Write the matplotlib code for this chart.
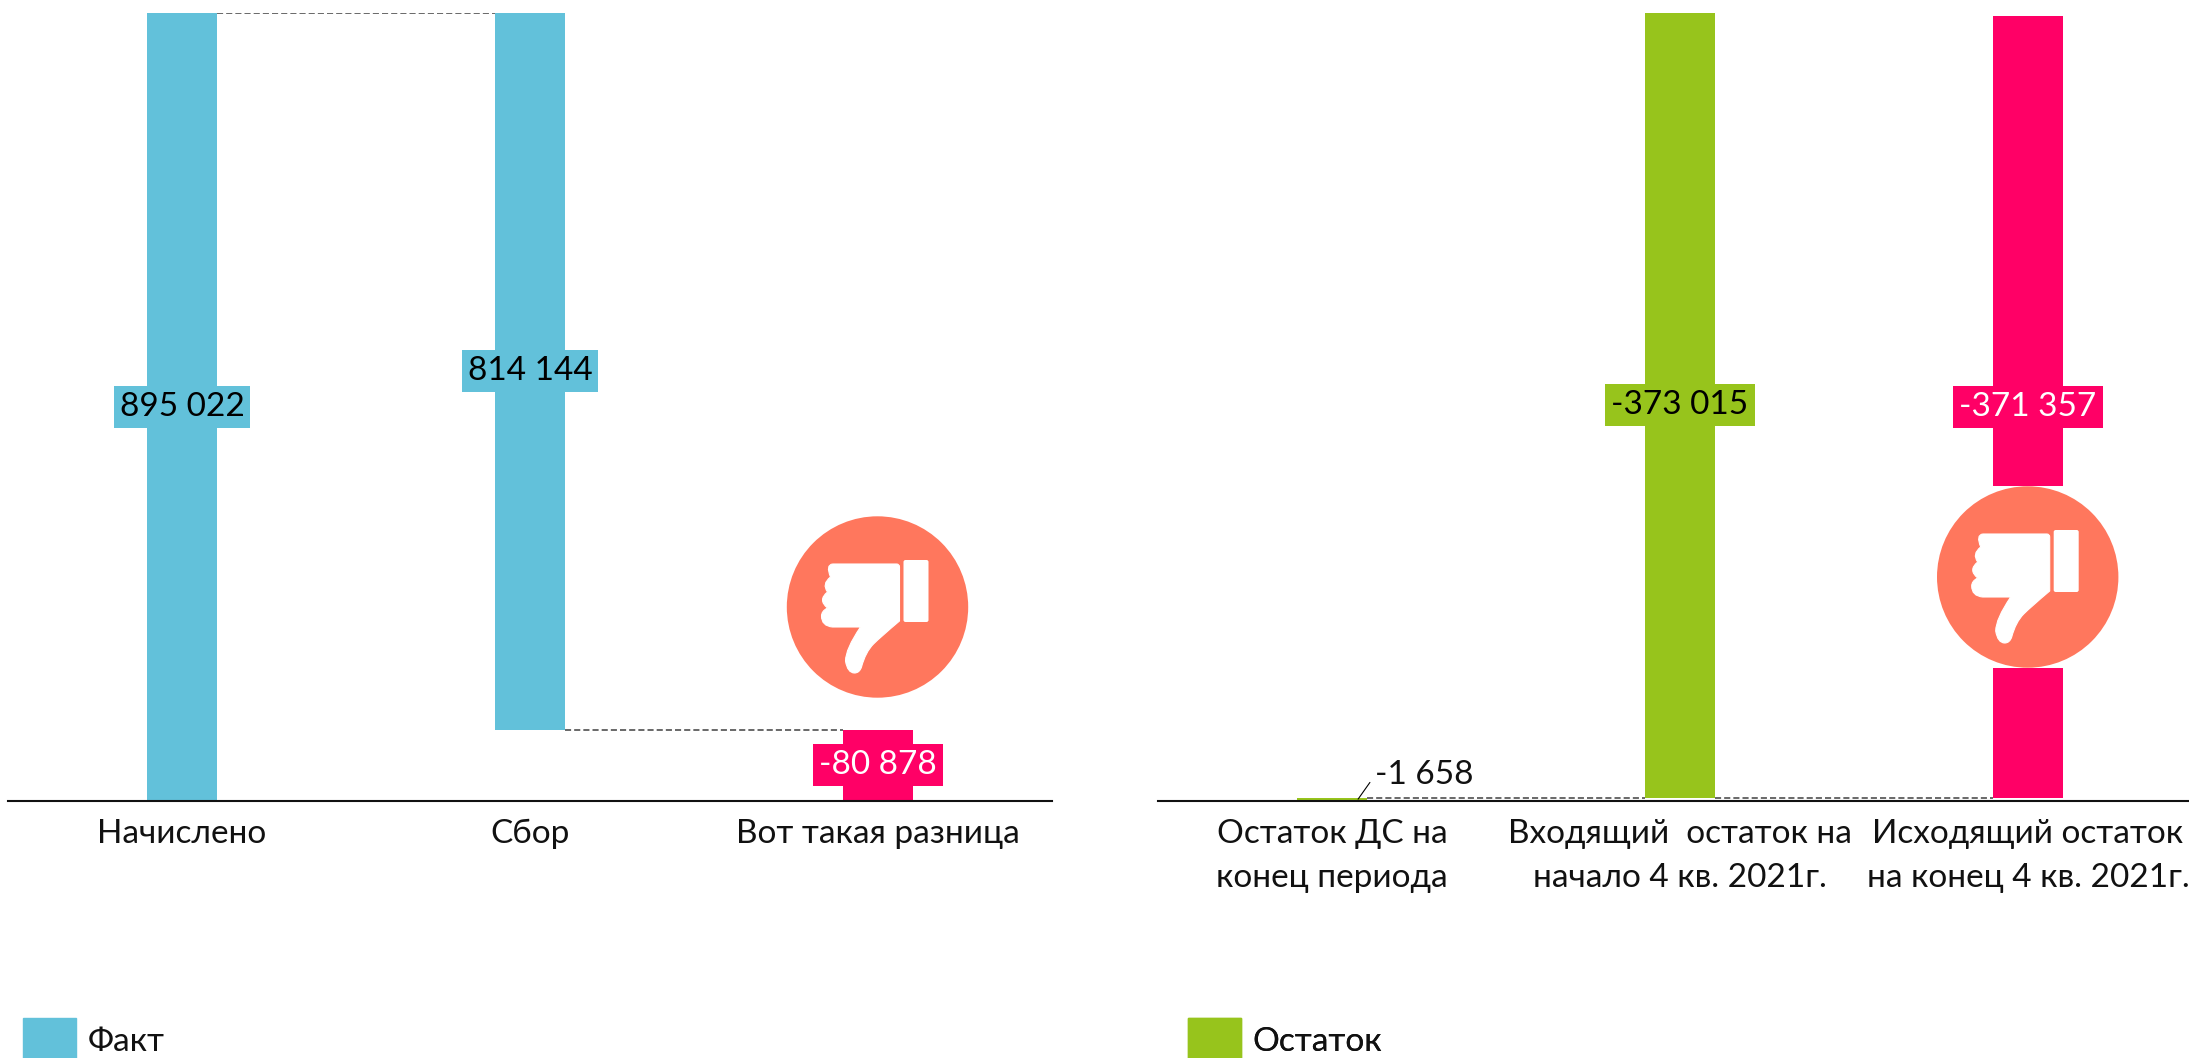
import matplotlib
matplotlib.use('Agg')
import matplotlib.pyplot as plt
from matplotlib.patches import Patch, Circle, Rectangle, PathPatch, FancyBboxPatch
from matplotlib.path import Path

plt.rcParams['font.family'] = ['Lato', 'Open Sans', 'DejaVu Sans']

# data
fact_labels = ['Начислено', 'Сбор', 'Вот такая разница']
fact_bottoms = [0, 80878, 0]
fact_heights = [895022, 814144, 80878]
fact_texts = ['895 022', '814 144', '-80 878']
fact_links = [895022, 80878]

rest_labels = ['Остаток ДС на\nконец периода', 'Входящий  остаток на\nначало 4 кв. 2021г.',
               'Исходящий остаток\nна конец 4 кв. 2021г.']
rest_bottoms = [0, 1658, 1658]
rest_heights = [1658, 373015, 371357]
rest_texts = ['-1 658', '-373 015', '-371 357']
rest_links = [1658, 1658]

BLUE = '#62C1DA'
GREEN = '#97C41C'
PINK = '#FF0066'
CORAL = '#FF775D'
W, H = 2189, 1058
FS = 24


def make_axes(fig, x0, x1, y_top, y_base):
    return fig.add_axes([x0/W, 1-y_base/H, (x1-x0)/W, (y_base-y_top)/H])


def draw_panel(ax, labels, bottoms, heights, colors, links, ymax):
    bars = ax.bar(range(3), heights, width=0.2, bottom=bottoms, color=colors, zorder=2)
    for i, y in enumerate(links):
        ax.plot([i+0.1, i+0.9], [y, y], color='#404040', lw=1.1, ls=(0, (4, 2)), zorder=1)
    ax.set_xlim(-0.5, 2.5)
    ax.set_ylim(0, ymax)
    ax.set_xticks(range(3))
    ax.set_xticklabels(labels, fontsize=FS, color='#111111', linespacing=1.6)
    ax.tick_params(axis='x', length=0, pad=13)
    ax.set_yticks([])
    for s in ['top', 'left', 'right']:
        ax.spines[s].set_visible(False)
    ax.spines['bottom'].set_linewidth(1.5)
    ax.spines['bottom'].set_color('#111111')
    ax.spines['bottom'].set_zorder(3)
    ax.patch.set_alpha(0)
    return bars


def value_label(ax, bar, text, color, text_color):
    ax.bar_label(ax.containers[0], labels=[text if b is bar else '' for b in ax.containers[0]],
                 label_type='center', fontsize=FS, color=text_color, zorder=5,
                 bbox=dict(boxstyle='square,pad=0.18', fc=color, ec='none'))


def thumb_icon(ov, cx, cy):
    # icon outline is given in pixels around the centre of the circle
    ov.add_patch(Rectangle((cx-91, cy-91), 182, 182, fc='white', ec='none', zorder=1))
    ov.add_patch(Circle((cx, cy), 90.7, fc=CORAL, ec='none', zorder=2))
    segs = [[(-45, -43)], [(19, -43)], [(22, -43), (22, -40)], [(22, 14)],
            [(3, 30), (-4, 37)], [(-12, 45), (-16, 60)], [(-18, 66), (-23, 66)],
            [(-30, 66), (-32, 54)], [(-32, 42), (-17, 20)], [(-45, 20)],
            [(-56, 19), (-56, 9)], [(-56, 4), (-50, 1)], [(-60, -7), (-50, -15)],
            [(-56, -23), (-47, -30)], [(-52, -42), (-45, -43)]]
    verts, codes = [], []
    for k, s in enumerate(segs):
        verts += [(cx+a, cy+b) for a, b in s]
        if k == 0:
            codes.append(Path.MOVETO)
        elif len(s) == 1:
            codes.append(Path.LINETO)
        else:
            codes += [Path.CURVE3, Path.CURVE3]
    ov.add_patch(PathPatch(Path(verts, codes), fc='white', ec='white', lw=0.8, joinstyle='round', zorder=3))
    ov.add_patch(FancyBboxPatch((cx+26, cy-47), 25, 62, boxstyle='round,pad=0,rounding_size=2',
                                fc='white', ec='none', zorder=3))


fig = plt.figure(figsize=(W/100, H/100), dpi=100)

ax1 = make_axes(fig, 8, 1052, 13, 801)
bars1 = draw_panel(ax1, fact_labels, fact_bottoms, fact_heights, [BLUE, BLUE, PINK], fact_links, 895022)
value_label(ax1, bars1[0], fact_texts[0], BLUE, 'black')
value_label(ax1, bars1[1], fact_texts[1], BLUE, 'black')
value_label(ax1, bars1[2], fact_texts[2], PINK, 'white')

ax2 = make_axes(fig, 1158, 2202, 13, 801)
bars2 = draw_panel(ax2, rest_labels, rest_bottoms, rest_heights, [GREEN, GREEN, PINK], rest_links, 374673)
value_label(ax2, bars2[1], rest_texts[1], GREEN, 'black')
value_label(ax2, bars2[2], rest_texts[2], PINK, 'white')
ax2.annotate(rest_texts[0], xy=(0.075, 900), xytext=(17, 24), textcoords='offset pixels',
             fontsize=FS, color='#111111', ha='left', va='center', zorder=5,
             arrowprops=dict(arrowstyle='-', relpos=(0, 0.5), shrinkA=3, shrinkB=0, lw=0.8, color='black'))

# icons and legends sit on a full figure overlay in pixels
ov = fig.add_axes([0, 0, 1, 1], zorder=10)
ov.set_xlim(0, W)
ov.set_ylim(H, 0)
ov.axis('off')
thumb_icon(ov, 877.5, 607)
thumb_icon(ov, 2027.7, 577)

for label, color, x in [('Факт', BLUE, 23), ('Остаток', GREEN, 1188)]:
    leg = ov.legend(handles=[Patch(color=color, label=label)], loc='lower left',
                    bbox_to_anchor=(x/W, -3/H), bbox_transform=fig.transFigure,
                    frameon=False, fontsize=FS, borderpad=0, borderaxespad=0,
                    handlelength=1.59, handleheight=1.59, handletextpad=0.34, labelcolor='#111111')
    ov.add_artist(leg)

fig.savefig('out.png', dpi=100)
